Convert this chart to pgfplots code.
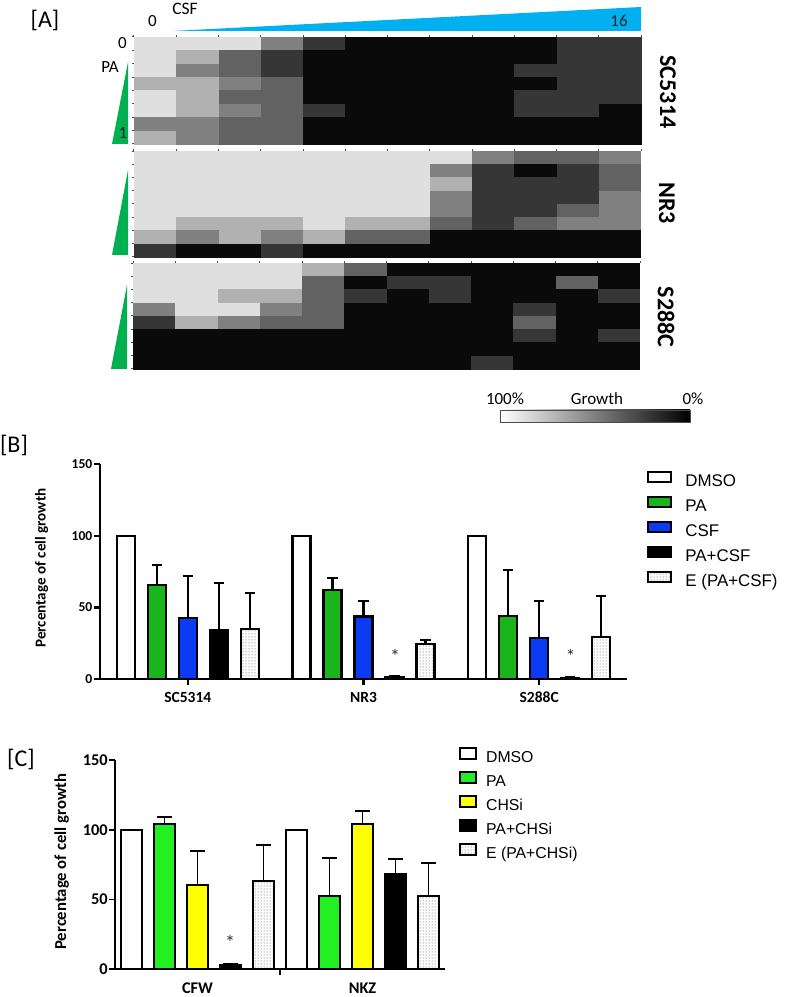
\documentclass[border=0pt]{standalone}
\usepackage{pgfplots}
\pgfplotsset{compat=1.18}
\usepackage{fontspec}
\setmainfont{Carlito}
\newfontfamily\arial{Liberation Sans}
\usetikzlibrary{patterns}
\definecolor{pagreen}{HTML}{1AB51A}
\definecolor{csfblue}{HTML}{0C3BF5}
\definecolor{cgreen}{HTML}{22F022}
\definecolor{cyellow}{HTML}{FFFF00}
\definecolor{trigreen}{HTML}{00B050}
\definecolor{triblue}{HTML}{00B0F0}
\newcommand{\fs}[1]{\fontsize{#1}{#1}\selectfont}
\pgfplotsset{
  heat/.style={anchor=south west, scale only axis, width=507pt, height=#1,
    xmin=-0.5, xmax=11.5, ymin=-0.5, ymax=7.5, y dir=reverse,
    axis line style={draw=none}, clip=false,
    xtick={-0.5,0.5,...,11.5}, ytick={-0.5,0.5,...,7.5},
    xticklabels={}, yticklabels={},
    xtick pos=right, ytick pos=left, tick align=outside,
    major tick length=2pt, tick style={black!70, line width=1pt},
    colormap={bw}{gray(0cm)=(0); gray(1cm)=(1)},
    point meta min=0, point meta max=1},
  hm/.style={scatter, only marks, point meta=explicit, mark=square*, mark size=#1,
    mark options={xscale=3.16, line width=0.3pt},
    scatter/use mapped color={draw=mapped color, fill=mapped color}},
  bars/.style={anchor=south west, scale only axis, clip=false,
    ymin=0, ymax=150, ytick={0,50,100,150},
    axis lines*=left,
    tick align=outside, major tick length=6pt,
    /pgf/number format/assume math mode=true,
    legend cell align=left},
  ebB/.style={error bars/.cd, y dir=plus, y explicit, error bar style={line width=2.2pt},
    error mark options={rotate=90, line width=2.2pt, mark size=5.3pt}},
  ebC/.style={error bars/.cd, y dir=plus, y explicit, error bar style={line width=1.9pt},
    error mark options={rotate=90, line width=1.9pt, mark size=7.3pt}},
}
\begin{document}
\begin{tikzpicture}[x=1pt,y=1pt]
\useasboundingbox (0,0) rectangle (785,997);
% ---------------- Panel A ----------------
\node[font=\fs{24}] at (45,977) {[A]};
\fill[triblue] (172,966) -- (641,990) -- (641,966) -- cycle;
\node[font=\fs{17}] at (152.5,976) {0};
\node[font=\fs{17.5}] at (185,988) {CSF};
\node[font=\fs{17}, text=black!85] at (619,976) {16};
\fill[trigreen] (112,853) -- (128,853) -- (128,935) -- cycle;
\fill[trigreen] (112,742) -- (128,742) -- (128,827) -- cycle;
\fill[trigreen] (111,628) -- (127,628) -- (127,712) -- cycle;
\node[font=\fs{17}] at (122.5,954) {0};
\node[font=\fs{17}] at (110,930) {PA};
\node[font=\fs{17}, text=black!85] at (123,864) {1};
\node[rotate=-90, font=\bfseries\fs{24}] at (668,905) {SC5314};
\node[rotate=-90, font=\bfseries\fs{24}] at (667,794) {NR3};
\node[rotate=-90, font=\bfseries\fs{24}] at (666,680) {S288C};

\begin{axis}[heat=107pt, at={(134pt,853pt)}]
\addplot[hm=6.62pt] coordinates {
(0,0)[.87] (1,0)[.87] (2,0)[.87] (3,0)[.50] (4,0)[.21] (5,0)[.04] (6,0)[.04] (7,0)[.04] (8,0)[.04] (9,0)[.04] (10,0)[.21] (11,0)[.21]
(0,1)[.87] (1,1)[.69] (2,1)[.38] (3,1)[.21] (4,1)[.04] (5,1)[.04] (6,1)[.04] (7,1)[.04] (8,1)[.04] (9,1)[.04] (10,1)[.21] (11,1)[.21]
(0,2)[.87] (1,2)[.50] (2,2)[.38] (3,2)[.21] (4,2)[.04] (5,2)[.04] (6,2)[.04] (7,2)[.04] (8,2)[.04] (9,2)[.21] (10,2)[.21] (11,2)[.21]
(0,3)[.69] (1,3)[.69] (2,3)[.50] (3,3)[.38] (4,3)[.04] (5,3)[.04] (6,3)[.04] (7,3)[.04] (8,3)[.04] (9,3)[.04] (10,3)[.21] (11,3)[.21]
(0,4)[.87] (1,4)[.69] (2,4)[.38] (3,4)[.38] (4,4)[.04] (5,4)[.04] (6,4)[.04] (7,4)[.04] (8,4)[.04] (9,4)[.21] (10,4)[.21] (11,4)[.21]
(0,5)[.87] (1,5)[.69] (2,5)[.50] (3,5)[.38] (4,5)[.21] (5,5)[.04] (6,5)[.04] (7,5)[.04] (8,5)[.04] (9,5)[.21] (10,5)[.21] (11,5)[.04]
(0,6)[.50] (1,6)[.50] (2,6)[.38] (3,6)[.38] (4,6)[.04] (5,6)[.04] (6,6)[.04] (7,6)[.04] (8,6)[.04] (9,6)[.04] (10,6)[.04] (11,6)[.04]
(0,7)[.69] (1,7)[.50] (2,7)[.38] (3,7)[.38] (4,7)[.04] (5,7)[.04] (6,7)[.04] (7,7)[.04] (8,7)[.04] (9,7)[.04] (10,7)[.04] (11,7)[.04]
};
\end{axis}

\begin{axis}[heat=106pt, at={(134pt,740pt)}]
\addplot[hm=6.56pt] coordinates {
(0,0)[.87] (1,0)[.87] (2,0)[.87] (3,0)[.87] (4,0)[.87] (5,0)[.87] (6,0)[.87] (7,0)[.87] (8,0)[.50] (9,0)[.38] (10,0)[.38] (11,0)[.50]
(0,1)[.87] (1,1)[.87] (2,1)[.87] (3,1)[.87] (4,1)[.87] (5,1)[.87] (6,1)[.87] (7,1)[.50] (8,1)[.21] (9,1)[.04] (10,1)[.21] (11,1)[.38]
(0,2)[.87] (1,2)[.87] (2,2)[.87] (3,2)[.87] (4,2)[.87] (5,2)[.87] (6,2)[.87] (7,2)[.69] (8,2)[.21] (9,2)[.21] (10,2)[.21] (11,2)[.38]
(0,3)[.87] (1,3)[.87] (2,3)[.87] (3,3)[.87] (4,3)[.87] (5,3)[.87] (6,3)[.87] (7,3)[.50] (8,3)[.21] (9,3)[.21] (10,3)[.21] (11,3)[.50]
(0,4)[.87] (1,4)[.87] (2,4)[.87] (3,4)[.87] (4,4)[.87] (5,4)[.87] (6,4)[.87] (7,4)[.50] (8,4)[.21] (9,4)[.21] (10,4)[.38] (11,4)[.50]
(0,5)[.87] (1,5)[.69] (2,5)[.69] (3,5)[.69] (4,5)[.87] (5,5)[.69] (6,5)[.69] (7,5)[.38] (8,5)[.21] (9,5)[.38] (10,5)[.50] (11,5)[.50]
(0,6)[.69] (1,6)[.50] (2,6)[.69] (3,6)[.50] (4,6)[.69] (5,6)[.38] (6,6)[.38] (7,6)[.04] (8,6)[.04] (9,6)[.04] (10,6)[.04] (11,6)[.04]
(0,7)[.21] (1,7)[.04] (2,7)[.04] (3,7)[.21] (4,7)[.04] (5,7)[.04] (6,7)[.04] (7,7)[.04] (8,7)[.04] (9,7)[.04] (10,7)[.04] (11,7)[.04]
};
\end{axis}

\begin{axis}[heat=106pt, at={(133pt,628pt)}]
\addplot[hm=6.56pt] coordinates {
(0,0)[.87] (1,0)[.87] (2,0)[.87] (3,0)[.87] (4,0)[.69] (5,0)[.38] (6,0)[.04] (7,0)[.04] (8,0)[.04] (9,0)[.04] (10,0)[.04] (11,0)[.04]
(0,1)[.87] (1,1)[.87] (2,1)[.87] (3,1)[.87] (4,1)[.38] (5,1)[.04] (6,1)[.21] (7,1)[.21] (8,1)[.04] (9,1)[.04] (10,1)[.38] (11,1)[.04]
(0,2)[.87] (1,2)[.87] (2,2)[.69] (3,2)[.69] (4,2)[.38] (5,2)[.21] (6,2)[.04] (7,2)[.21] (8,2)[.04] (9,2)[.04] (10,2)[.04] (11,2)[.21]
(0,3)[.50] (1,3)[.87] (2,3)[.87] (3,3)[.50] (4,3)[.38] (5,3)[.04] (6,3)[.04] (7,3)[.04] (8,3)[.04] (9,3)[.21] (10,3)[.04] (11,3)[.04]
(0,4)[.21] (1,4)[.69] (2,4)[.50] (3,4)[.38] (4,4)[.38] (5,4)[.04] (6,4)[.04] (7,4)[.04] (8,4)[.04] (9,4)[.38] (10,4)[.04] (11,4)[.04]
(0,5)[.04] (1,5)[.04] (2,5)[.04] (3,5)[.04] (4,5)[.04] (5,5)[.04] (6,5)[.04] (7,5)[.04] (8,5)[.04] (9,5)[.21] (10,5)[.04] (11,5)[.21]
(0,6)[.04] (1,6)[.04] (2,6)[.04] (3,6)[.04] (4,6)[.04] (5,6)[.04] (6,6)[.04] (7,6)[.04] (8,6)[.04] (9,6)[.04] (10,6)[.04] (11,6)[.04]
(0,7)[.04] (1,7)[.04] (2,7)[.04] (3,7)[.04] (4,7)[.04] (5,7)[.04] (6,7)[.04] (7,7)[.04] (8,7)[.21] (9,7)[.04] (10,7)[.04] (11,7)[.04]
};
\end{axis}

% colour bar
\shade[left color=white, right color=black] (500,575) rectangle (690,587);
\draw[black!70, line width=0.7pt] (500,575) rectangle (690,587);
\node[font=\fs{17}] at (505,598.5) {100\%};
\node[font=\fs{17}] at (597,598.5) {Growth};
\node[font=\fs{17}] at (693,598.5) {0\%};

% ---------------- Panel B ----------------
\node[font=\fs{24}] at (14,552) {[B]};
\begin{axis}[bars, at={(100pt,318pt)}, width=527pt, height=214.7pt,
  xmin=-0.5, xmax=2.5, xtick={0,1,2}, xticklabels={SC5314,NR3,S288C},
  axis line style={line width=2.2pt}, tick style={black, line width=2.2pt},
  yticklabel style={font=\bfseries\fs{13.6}, inner sep=1.5pt},
  xticklabel style={font=\bfseries\fs{15.5}, inner sep=2pt, yshift=-5pt},
  ylabel={Percentage of cell growth},
  ylabel style={at={(axis description cs:-0.1106,0.517)}, anchor=center, font=\bfseries\fs{15.1}},
  ybar=13pt, bar width=18pt,
  legend style={at={(axis description cs:1.038,0.971)}, anchor=north west, draw=none, fill=none,
    font=\arial\fs{16.9}, inner sep=0pt, row sep=5.4pt, column sep=13pt,
    nodes={inner sep=0pt, text height=12.5pt, text depth=3.6pt}},
  legend image code/.code={\draw[#1, line width=2.2pt] (0pt,0.5pt) rectangle (23pt,10.5pt);},
]
\addplot[fill=white, draw=black, line width=2.2pt] coordinates {(0,100) (1,100) (2,100)};
\addlegendentry{DMSO}
\addplot[fill=pagreen, draw=black, line width=2.2pt, ebB]
  coordinates {(0,65.7) +- (0,13.7) (1,61.9) +- (0,8.7) (2,44.0) +- (0,32.0)};
\addlegendentry{PA}
\addplot[fill=csfblue, draw=black, line width=2.2pt, ebB]
  coordinates {(0,42.8) +- (0,29.4) (1,43.7) +- (0,11.0) (2,28.4) +- (0,26.1)};
\addlegendentry{CSF}
\addplot[fill=black, draw=black, line width=2.2pt, ebB]
  coordinates {(0,33.9) +- (0,33.4) (1,1.5) +- (0,0.8) (2,0.8) +- (0,0.5)};
\addlegendentry{PA+CSF}
\addplot[fill=white, postaction={pattern=dots, pattern color=black!75}, draw=black, line width=2.2pt, ebB]
  coordinates {(0,34.8) +- (0,25.5) (1,24.7) +- (0,2.8) (2,29.4) +- (0,28.8)};
\addlegendentry{E (PA+CSF)}
\end{axis}
\node[font=\fs{20}, text=black!80] at (395,341) {*};
\node[font=\fs{20}, text=black!80] at (570.7,341) {*};

% ---------------- Panel C ----------------
\node[font=\fs{24}] at (21,238) {[C]};
\begin{axis}[bars, at={(115pt,27.7pt)}, width=330pt, height=209.3pt,
  xmin=-0.5, xmax=1.5, xtick={0,1}, xticklabels={CFW,NKZ},
  axis line style={line width=1.9pt}, tick style={black, line width=1.9pt},
  xtick style={draw=none},
  yticklabel style={font=\bfseries\fs{16.4}, inner sep=1pt},
  xticklabel style={font=\bfseries\fs{16.3}, inner sep=2pt, yshift=-5.5pt},
  ylabel={Percentage of cell growth},
  ylabel style={at={(axis description cs:-0.1615,0.514)}, anchor=center, font=\bfseries\fs{16.7}},
  ybar=12.8pt, bar width=20.2pt,
  legend style={at={(axis description cs:1.0424,1.064)}, anchor=north west, draw=none, fill=none,
    font=\arial\fs{15.8}, inner sep=0pt, row sep=4.4pt, column sep=9pt,
    nodes={inner sep=0pt, text height=11.8pt, text depth=3.4pt}},
  legend image code/.code={\draw[#1, line width=1.9pt] (0pt,0pt) rectangle (16pt,11pt);},
]
\addplot[fill=white, draw=black, line width=1.9pt] coordinates {(0,100) (1,100)};
\addlegendentry{DMSO}
\addplot[fill=cgreen, draw=black, line width=1.9pt, ebC]
  coordinates {(0,104.4) +- (0,4.5) (1,52.3) +- (0,27.2)};
\addlegendentry{PA}
\addplot[fill=cyellow, draw=black, line width=1.9pt, ebC]
  coordinates {(0,60.4) +- (0,24.4) (1,104.4) +- (0,8.8)};
\addlegendentry{CHSi}
\addplot[fill=black, draw=black, line width=1.9pt, ebC]
  coordinates {(0,2.9) +- (0,0.6) (1,68.3) +- (0,10.5)};
\addlegendentry{PA+CHSi}
\addplot[fill=white, postaction={pattern=dots, pattern color=black!75}, draw=black, line width=1.9pt, ebC]
  coordinates {(0,63.3) +- (0,25.8) (1,52.5) +- (0,23.4)};
\addlegendentry{E (PA+CHSi)}
\draw[line width=1.9pt] (axis cs:0.5,0) -- ++(0pt,-6pt);
\end{axis}
\node[font=\fs{20}, text=black!80] at (230,55) {*};
\end{tikzpicture}
\end{document}
